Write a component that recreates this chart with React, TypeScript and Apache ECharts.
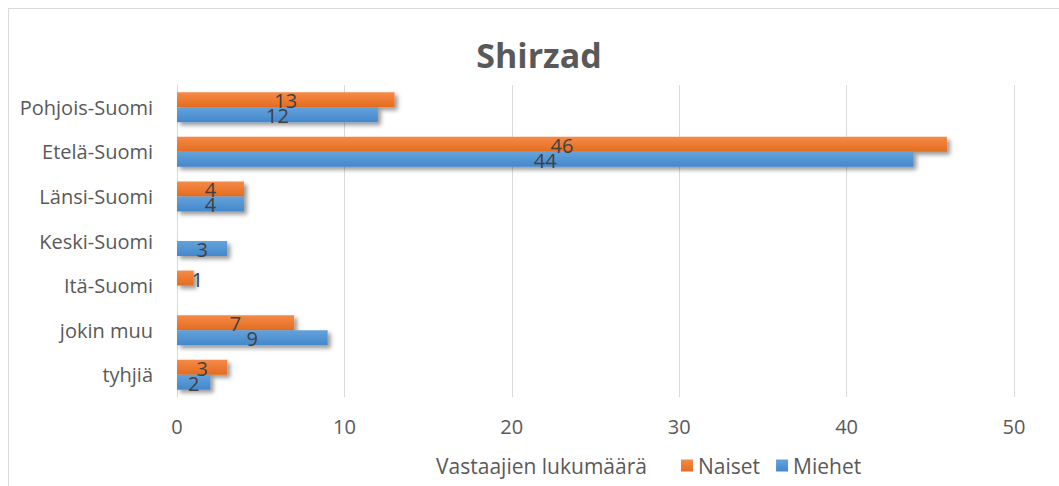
import React, { useEffect, useRef } from "react";
import * as echarts from "echarts";

const categories = ["Pohjois-Suomi", "Etelä-Suomi", "Länsi-Suomi", "Keski-Suomi", "Itä-Suomi", "jokin muu", "tyhjiä"];
const naiset: (number | null)[] = [13, 46, 4, null, 1, 7, 3];
const miehet: (number | null)[] = [12, 44, 4, 3, null, 9, 2];
const xTicks = { min: 0, max: 50, interval: 10 };
const title = "Shirzad";
const axisTitle = "Vastaajien lukumäärä";
const seriesNames = ["Naiset", "Miehet"];

const FONT = "'Open Sans', 'Noto Sans', sans-serif";
const TXT = "#595959";

function grad(top: string, bottom: string) {
  return new echarts.graphic.LinearGradient(0, 0, 0, 1, [
    { offset: 0, color: top },
    { offset: 1, color: bottom },
  ]);
}

export default function App() {
  const ref = useRef<HTMLDivElement>(null);
  useEffect(() => {
    if (!ref.current) return;
    const chart = echarts.init(ref.current, undefined, { renderer: "svg" });
    const labelBase = {
      show: true,
      position: "inside" as const,
      color: "#404040",
      fontFamily: FONT,
      fontSize: 20,
      offset: [0, 1],
    };
    const mkData = (vals: (number | null)[]) =>
      vals.map((v) =>
        v !== null && v < 2
          ? { value: v, label: { position: "right" as const, distance: -2 } }
          : v
      );
    const shadow = {
      shadowBlur: 4,
      shadowOffsetX: 3,
      shadowOffsetY: 3,
      shadowColor: "rgba(0,0,0,0.4)",
    };
    chart.setOption({
      animation: false,
      backgroundColor: "#ffffff",
      title: {
        text: title,
        left: 534,
        textAlign: "center",
        top: 33,
        textStyle: { color: TXT, fontFamily: FONT, fontWeight: "bold", fontSize: 34 },
      },
      legend: {
        data: seriesNames,
        left: 676,
        top: 450,
        itemWidth: 12,
        itemHeight: 12,
        itemGap: 16,
        icon: "rect",
        textStyle: { color: TXT, fontFamily: FONT, fontSize: 21, padding: [0, 0, 0, 0] },
      },
      grid: { left: 177, right: 45, top: 85, bottom: 89, containLabel: false },
      xAxis: {
        type: "value",
        min: xTicks.min,
        max: xTicks.max,
        interval: xTicks.interval,
        name: axisTitle,
        nameLocation: "middle",
        nameGap: 58,
        nameTextStyle: { color: TXT, fontFamily: FONT, fontSize: 21, padding: [0, 108, 0, 0] },
        axisLine: { show: false },
        axisTick: { show: false },
        axisLabel: { color: TXT, fontFamily: FONT, fontSize: 20, margin: 19 },
        splitLine: { show: true, lineStyle: { color: "#d9d9d9", width: 1 } },
      },
      yAxis: {
        type: "category",
        data: categories,
        inverse: true,
        axisLine: { show: true, lineStyle: { color: "#d9d9d9", width: 1 } },
        axisTick: { show: false },
        axisLabel: { color: TXT, fontFamily: FONT, fontSize: 20, margin: 24 },
      },
      series: [
        {
          name: seriesNames[0],
          type: "bar",
          data: mkData(naiset),
          barWidth: 15,
          barGap: "0%",
          itemStyle: { color: grad("#f58a48", "#e46c1f"), ...shadow },
          label: labelBase,
        },
        {
          name: seriesNames[1],
          type: "bar",
          data: mkData(miehet),
          barWidth: 15,
          barGap: "0%",
          itemStyle: { color: grad("#64a2da", "#4388cc"), ...shadow },
          label: labelBase,
        },
      ],
      graphic: [
        {
          type: "rect",
          shape: { x: 8.5, y: 8.5, width: 1200, height: 700 },
          style: { fill: "none", stroke: "#d9d9d9", lineWidth: 1 },
          silent: true,
        },
      ],
    });
    return () => chart.dispose();
  }, []);
  return (
    <div
      ref={ref}
      style={{ position: "absolute", left: 0, top: 0, width: 1059, height: 486 }}
    />
  );
}
